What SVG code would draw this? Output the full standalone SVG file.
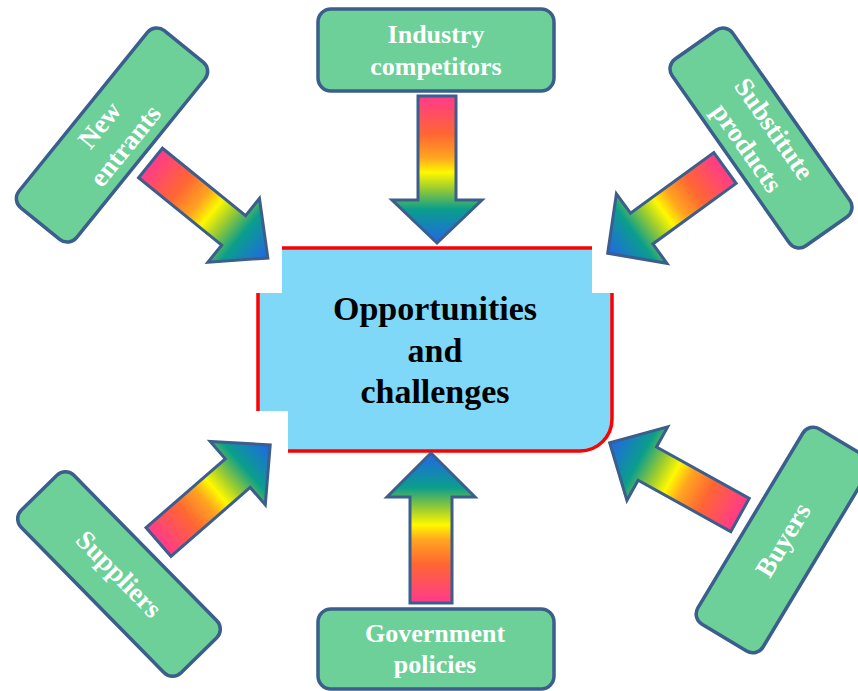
<svg xmlns="http://www.w3.org/2000/svg" width="858" height="691" viewBox="0 0 858 691">
<style>
.box{fill:#6CD098;stroke:#3B5E8C;stroke-width:3.5}
.lbl{font-family:"Liberation Serif","Times New Roman",serif;font-weight:bold;fill:#FFFFFF;text-anchor:middle}
.h{font-size:26px}
.r{font-size:27px}
.arr{fill:url(#rainbow);stroke:#3B5E8C;stroke-width:3;stroke-linejoin:miter}
.ctr{font-family:"Liberation Serif","Times New Roman",serif;font-weight:bold;font-size:34px;fill:#000000;text-anchor:middle}
</style>
<defs>
<linearGradient id="rainbow" x1="0" y1="0" x2="1" y2="0">
<stop offset="0" stop-color="#FF3A8C"/>
<stop offset="0.26" stop-color="#FF6633"/>
<stop offset="0.42" stop-color="#FFA520"/>
<stop offset="0.52" stop-color="#FFF800"/>
<stop offset="0.63" stop-color="#9ACB32"/>
<stop offset="0.77" stop-color="#0A9E8C"/>
<stop offset="1" stop-color="#2266E8"/>
</linearGradient>
</defs>
<rect width="858" height="691" fill="#FFFFFF"/>

<g id="center">
<path d="M266,248 H604 Q612,248 612,256 V419 A32,32 0 0 1 580,451 H266 Q258,451 258,443 V256 Q258,248 266,248 Z" fill="#80D8F8" stroke="#FF0000" stroke-width="3.5"/>
<rect x="248" y="238" width="34" height="55" fill="#FFFFFF"/>
<rect x="592" y="238" width="28" height="55" fill="#FFFFFF"/>
<rect x="248" y="411" width="40" height="46" fill="#FFFFFF"/>
<text class="ctr" x="435" y="320">Opportunities</text>
<text class="ctr" x="435" y="362">and</text>
<text class="ctr" x="435" y="403">challenges</text>
</g>

<g id="connectors">
<path class="arr" transform="translate(150.5,163) rotate(39)" d="M0,-19 L107,-19 L107,-41 L151,0 L107,41 L107,19 L0,19 Z"/>
<path class="arr" transform="translate(437,96) rotate(90)" d="M0,-19 L104,-19 L104,-45 L147,0 L104,45 L104,19 L0,19 Z"/>
<path class="arr" transform="translate(725,168) rotate(144)" d="M0,-19 L103,-19 L103,-43 L145,0 L103,43 L103,19 L0,19 Z"/>
<path class="arr" transform="translate(158.5,542) rotate(-41)" d="M0,-19 L105,-19 L105,-42 L148,0 L105,42 L105,19 L0,19 Z"/>
<path class="arr" transform="translate(431,603) rotate(-90)" d="M0,-21 L106,-21 L106,-44 L150,0 L106,44 L106,21 L0,21 Z"/>
<path class="arr" transform="translate(740,515) rotate(-151)" d="M0,-19 L106,-19 L106,-42 L149,0 L106,42 L106,19 L0,19 Z"/>
</g>

<g id="industry-competitors">
<rect class="box" x="318" y="9" width="236" height="82" rx="13"/>
<text class="lbl h" x="436" y="43">Industry</text>
<text class="lbl h" x="436" y="75">competitors</text>
</g>

<g id="government-policies">
<rect class="box" x="318" y="609" width="236" height="80" rx="13"/>
<text class="lbl h" x="435" y="642">Government</text>
<text class="lbl h" x="435" y="673">policies</text>
</g>

<g id="new-entrants" transform="translate(112,135) rotate(-51)">
<rect class="box" x="-114" y="-37" width="228" height="74" rx="12"/>
<text class="lbl r" x="0" y="-7">New</text>
<text class="lbl r" x="0" y="26">entrants</text>
</g>

<g id="substitute-products" transform="translate(761,138) rotate(55)">
<rect class="box" x="-114" y="-37" width="228" height="74" rx="12"/>
<text class="lbl r" x="0" y="-7">Substitute</text>
<text class="lbl r" x="0" y="26">products</text>
</g>

<g id="suppliers" transform="translate(119,574) rotate(45.5)">
<rect class="box" x="-114" y="-37" width="228" height="74" rx="12"/>
<text class="lbl r" x="0" y="9">Suppliers</text>
</g>

<g id="buyers" transform="translate(783,540) rotate(-59)">
<rect class="box" x="-114" y="-38" width="228" height="76" rx="12"/>
<text class="lbl r" x="0" y="9">Buyers</text>
</g>
</svg>
